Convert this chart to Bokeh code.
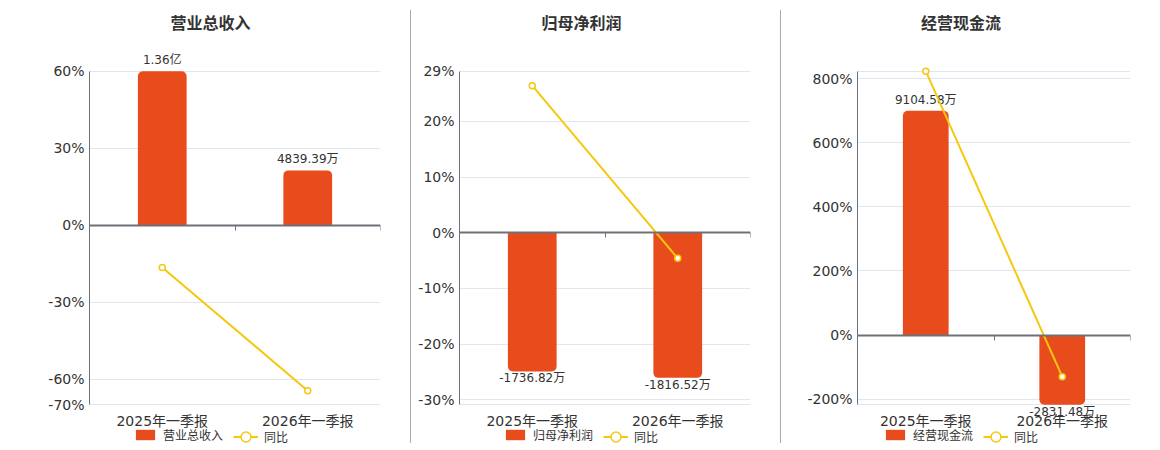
from bokeh.plotting import figure
from bokeh.models import (ColumnDataSource, Range1d, LinearAxis, FixedTicker, Label,
                          LabelSet, Legend, LegendItem, CDSView, BooleanFilter, Div, Grid)
from bokeh.layouts import row
from bokeh.embed import file_html
from bokeh.resources import INLINE
from bokeh.core.properties import value

# ---------------- data ----------------
categories = ["2025年一季报", "2026年一季报"]

revenue = [13600.0, 4839.39]          # 万元
revenue_yoy = [-16.5, -64.5]          # %

profit = [-1736.82, -1816.52]         # 万元
profit_yoy = [26.4, -4.6]             # %

cashflow = [9104.58, -2831.48]        # 万元
cashflow_yoy = [823.7, -130.0]        # %

titles = ["营业总收入", "归母净利润", "经营现金流"]
series_names = ["营业总收入", "归母净利润", "经营现金流"]
yoy_name = "同比"

pct_bounds = [(-70, 60), (-30.9, 29), (-217.8, 823.75)]
bar_scales = [226.67, 69.7, 13.0]     # 万元 per % on the hidden bar axis
pct_ticks = [[-70, -60, -30, 0, 30, 60],
             [-30, -20, -10, 0, 10, 20, 29],
             [-200, 0, 200, 400, 600, 800]]

# ---------------- style ----------------
RED = "#E84C1D"
GOLD = "#F5C80F"
AXIS = "#6E7079"
GRID = "#E0E6F1"
TXT = "#333333"
FONT = "'DejaVu Sans', 'Noto Sans CJK SC'"
CJK = "Noto Sans CJK SC"
H = 450
PLOT_TOP, PLOT_BOTTOM = 70.7, 404.3   # pixel rows of the value-axis bounds


def fmt(v):
    return f"{v / 10000:.2f}亿" if abs(v) >= 10000 else f"{v:.2f}万"


def panel(idx, bars, yoy, width, left, right, title_x, leg1_x, leg2_x):
    n = len(categories)
    xs = [i + 0.5 for i in range(n)]
    pmin, pmax = pct_bounds[idx]
    s = (pmax - pmin) / (PLOT_BOTTOM - PLOT_TOP)
    y0, y1 = pmin - (H - PLOT_BOTTOM) * s, pmax + PLOT_TOP * s
    sc = bar_scales[idx]
    src = ColumnDataSource(dict(x=xs, v=bars, yoy=yoy))
    pos = [b >= 0 for b in bars]
    neg = [b < 0 for b in bars]

    p = figure(width=width, height=H, x_range=Range1d(0, n), y_range=Range1d(y0, y1),
               output_backend="svg", toolbar_location=None, x_axis_location=None,
               min_border_left=left, min_border_right=right,
               min_border_top=0, min_border_bottom=0)
    p.outline_line_color = None
    p.extra_y_ranges = {"bar": Range1d(y0 * sc, y1 * sc)}

    # grid lines (labelled ticks + plot-area bounds)
    p.xgrid.visible = False
    p.ygrid.ticker = FixedTicker(ticks=pct_ticks[idx])
    p.ygrid.grid_line_color = GRID
    p.add_layout(Grid(dimension=1, ticker=FixedTicker(ticks=[pmin, pmax]),
                      grid_line_color=GRID))

    # value axis
    ya = p.yaxis[0]
    ya.ticker = FixedTicker(ticks=pct_ticks[idx])
    ya.major_label_overrides = {t: f"{t:g}%" for t in pct_ticks[idx]}
    ya.bounds = (pmin, pmax)
    ya.axis_line_color = AXIS
    ya.major_tick_line_color = None
    ya.major_tick_out = 0
    ya.minor_tick_line_color = None
    ya.major_label_standoff = 5
    ya.major_label_text_font_size = "14px"
    ya.major_label_text_color = TXT
    ya.major_label_text_font = FONT

    # category labels axis at the bottom of the plot area
    xa = LinearAxis(fixed_location=pmin, ticker=FixedTicker(ticks=xs))
    xa.major_label_overrides = {x: c for x, c in zip(xs, categories)}
    xa.axis_line_color = None
    xa.major_tick_line_color = None
    xa.major_tick_out = 0
    xa.major_tick_in = 0
    xa.minor_tick_line_color = None
    xa.minor_tick_out = 0
    xa.major_label_standoff = 8
    xa.major_label_text_font_size = "14px"
    xa.major_label_text_color = TXT
    xa.major_label_text_font = FONT
    p.add_layout(xa, "below")

    # zero line axis with boundary ticks
    za = LinearAxis(fixed_location=0, ticker=FixedTicker(ticks=list(range(1, n + 1))))
    za.major_label_overrides = {i: "" for i in range(1, n + 1)}
    za.axis_line_color = AXIS
    za.axis_line_width = 2
    za.major_tick_line_color = AXIS
    za.major_tick_out = 5
    za.major_tick_in = 0
    za.minor_tick_line_color = None
    p.add_layout(za, "below")

    # bars
    r_pos = p.vbar(x="x", top="v", bottom=0, width=0.335, source=src,
                   view=CDSView(filter=BooleanFilter(pos)), y_range_name="bar",
                   fill_color=RED, line_color=None, border_radius=(5, 5, 0, 0))
    r_neg = p.vbar(x="x", top=0, bottom="v", width=0.335, source=src,
                   view=CDSView(filter=BooleanFilter(neg)), y_range_name="bar",
                   fill_color=RED, line_color=None, border_radius=(0, 0, 5, 5))
    bar_r = r_pos if any(pos) else r_neg

    # value labels
    psrc = ColumnDataSource(dict(x=[x for x, k in zip(xs, pos) if k],
                                 v=[b for b, k in zip(bars, pos) if k],
                                 lab=[fmt(b) for b, k in zip(bars, pos) if k]))
    nsrc = ColumnDataSource(dict(x=[x for x, k in zip(xs, neg) if k],
                                 v=[b for b, k in zip(bars, neg) if k],
                                 lab=[fmt(b) for b, k in zip(bars, neg) if k]))
    for sr, base, off in ((psrc, "bottom", 4), (nsrc, "top", 0)):
        ls = LabelSet(x="x", y="v", text="lab", source=sr, y_range_name="bar",
                      text_align="center", text_baseline=base, y_offset=off,
                      text_font_size="12px", text_color=TXT, text_font=value(FONT),
                      level="underlay")
        p.add_layout(ls)

    # yoy line
    r_line = p.line(x="x", y="yoy", source=src, line_color=GOLD, line_width=2)
    r_pt = p.scatter(x="x", y="yoy", source=src, size=6, fill_color="white",
                     line_color=GOLD, line_width=1.5)

    # title
    p.add_layout(Label(x=title_x, y=H - 21, x_units="screen", y_units="screen",
                       text=titles[idx], text_align="center", text_baseline="middle",
                       text_font_size="16px", text_font_style="bold",
                       text_color=TXT, text_font=CJK))

    # legends
    leg1 = Legend(items=[LegendItem(label=series_names[idx], renderers=[bar_r])],
                  location=(leg1_x, 7), orientation="horizontal",
                  glyph_width=24, glyph_height=13, label_height=13, label_standoff=6,
                  padding=0, margin=0, border_line_color=None, background_fill_alpha=0,
                  label_text_font_size="12px", label_text_color=TXT, label_text_font=CJK)
    leg2 = Legend(items=[LegendItem(label=yoy_name, renderers=[r_line, r_pt])],
                  location=(leg2_x, 1), orientation="horizontal",
                  glyph_width=25, glyph_height=25, label_height=25, label_standoff=6,
                  padding=0, margin=0, border_line_color=None, background_fill_alpha=0,
                  label_text_font_size="12px", label_text_color=TXT, label_text_font=CJK)
    p.add_layout(leg1)
    p.add_layout(leg2)
    return p


p1 = panel(0, revenue, revenue_yoy, 410, 89, 30, 121, 44, 144)
p2 = panel(1, profit, profit_yoy, 369, 48, 30, 122, 44, 144)
p3 = panel(2, cashflow, cashflow_yoy, 379, 76, 30, 103.5, 26, 126)

sep1 = Div(width=1, height=433, margin=(10, 0, 0, 0), styles={"background-color": "#aaaaaa"})
sep2 = Div(width=1, height=433, margin=(10, 0, 0, 0), styles={"background-color": "#aaaaaa"})

layout = row(p1, sep1, p2, sep2, p3)
open("out.html", "w").write(file_html(layout, INLINE))
